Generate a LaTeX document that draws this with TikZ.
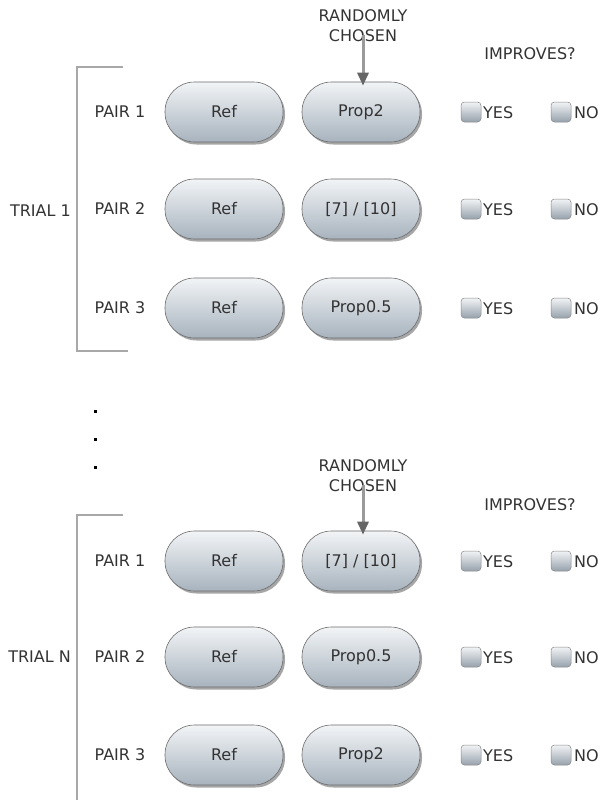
\documentclass[tikz,border=0pt]{standalone}
\usepackage{fontspec}
\setmainfont{DejaVu Sans}
\usetikzlibrary{shadows,arrows.meta}
\definecolor{txt}{HTML}{333333}
\definecolor{pilltop}{HTML}{F2F4F6}
\definecolor{pillbot}{HTML}{A7B3BE}
\definecolor{pillrim}{HTML}{6A6A6A}
\definecolor{brk}{HTML}{A8A8A8}
\definecolor{arr}{HTML}{9A9A9A}
\definecolor{arrhead}{HTML}{666666}
\tikzset{
  lbl/.style={text=txt, font=\fontsize{16}{20}\selectfont, inner sep=0pt},
  pill/.style={draw=pillrim, line width=0.6pt, rounded corners=29.5pt,
    minimum width=118pt, minimum height=60pt, top color=pilltop, bottom color=pillbot,
    text=txt, font=\fontsize{16}{20}\selectfont,
    drop shadow={shadow xshift=2pt, shadow yshift=-2.5pt, opacity=0.35, fill=black}},
  cbox/.style={draw=pillrim!80, line width=0.5pt, rounded corners=3.5pt,
    minimum width=20pt, minimum height=20pt, inner sep=0pt,
    top color=pilltop, bottom color=pillbot!90!black},
  brack/.style={draw=brk, line width=1.6pt},
  choose/.style={draw=arr, line width=3pt,
    -{Triangle[length=13pt,width=11pt,color=arrhead]}},
  dot/.style={fill=black, minimum size=3pt, inner sep=0pt}
}
\begin{document}
\begin{tikzpicture}[x=1pt,y=-1pt]
\useasboundingbox (0,0) rectangle (601,800);
% ---------- Trial 1 ----------
\node[lbl, align=center] (rc1) at (363,26) {RANDOMLY\\CHOSEN};
\node[lbl] (imp1) at (530,54) {IMPROVES?};
\coordinate (b1t) at (123,67);
\coordinate (b1c) at (77,67);
\coordinate (b1d) at (77,351);
\coordinate (b1e) at (128,351);
\draw[brack] (b1t) -- (b1c) -- (b1d) -- (b1e);
\node[lbl, anchor=east] (t1) at (71,211) {TRIAL 1};

\node[lbl] (p11) at (120,112) {PAIR 1};
\node[pill] (r11) at (224,112) {Ref};
\node[pill] (q11) at (361,112) {Prop2};
\node[cbox] (y11) at (471,112) {};
\node[lbl, anchor=west] (yt11) at (483,113) {YES};
\node[cbox] (n11) at (561,112) {};
\node[lbl, anchor=west] (nt11) at (574,113) {NO};

\node[lbl] (p12) at (120,209) {PAIR 2};
\node[pill] (r12) at (224,209) {Ref};
\node[pill] (q12) at (361,209) {[7] / [10]};
\node[cbox] (y12) at (471,209) {};
\node[lbl, anchor=west] (yt12) at (483,210) {YES};
\node[cbox] (n12) at (561,209) {};
\node[lbl, anchor=west] (nt12) at (574,210) {NO};

\node[lbl] (p13) at (120,308) {PAIR 3};
\node[pill] (r13) at (224,308) {Ref};
\node[pill] (q13) at (361,308) {Prop0.5};
\node[cbox] (y13) at (471,308) {};
\node[lbl, anchor=west] (yt13) at (483,309) {YES};
\node[cbox] (n13) at (561,308) {};
\node[lbl, anchor=west] (nt13) at (574,309) {NO};

\draw[choose] ([yshift=7pt]rc1.south) -- ([yshift=-4pt]rc1.south |- q11.north);

% ---------- dots ----------
\node[dot] (d1) at (95,411) {};
\node[dot] (d2) at (95,439) {};
\node[dot] (d3) at (95,467) {};

% ---------- Trial N ----------
\node[lbl, align=center] (rc2) at (363,476) {RANDOMLY\\CHOSEN};
\node[lbl] (imp2) at (530,505) {IMPROVES?};
\coordinate (b2t) at (123,515);
\coordinate (b2c) at (77,515);
\coordinate (b2d) at (77,802);
\draw[brack] (b2t) -- (b2c) -- (b2d);
\node[lbl, anchor=east] (t2) at (71,657) {TRIAL N};

\node[lbl] (p21) at (120,561) {PAIR 1};
\node[pill] (r21) at (224,561) {Ref};
\node[pill] (q21) at (361,561) {[7] / [10]};
\node[cbox] (y21) at (471,561) {};
\node[lbl, anchor=west] (yt21) at (483,562) {YES};
\node[cbox] (n21) at (561,561) {};
\node[lbl, anchor=west] (nt21) at (574,562) {NO};

\node[lbl] (p22) at (120,657) {PAIR 2};
\node[pill] (r22) at (224,657) {Ref};
\node[pill] (q22) at (361,657) {Prop0.5};
\node[cbox] (y22) at (471,657) {};
\node[lbl, anchor=west] (yt22) at (483,658) {YES};
\node[cbox] (n22) at (561,657) {};
\node[lbl, anchor=west] (nt22) at (574,658) {NO};

\node[lbl] (p23) at (120,755) {PAIR 3};
\node[pill] (r23) at (224,755) {Ref};
\node[pill] (q23) at (361,755) {Prop2};
\node[cbox] (y23) at (471,755) {};
\node[lbl, anchor=west] (yt23) at (483,756) {YES};
\node[cbox] (n23) at (561,755) {};
\node[lbl, anchor=west] (nt23) at (574,756) {NO};

\draw[choose] ([yshift=7pt]rc2.south) -- ([yshift=-4pt]rc2.south |- q21.north);
\end{tikzpicture}
\end{document}
